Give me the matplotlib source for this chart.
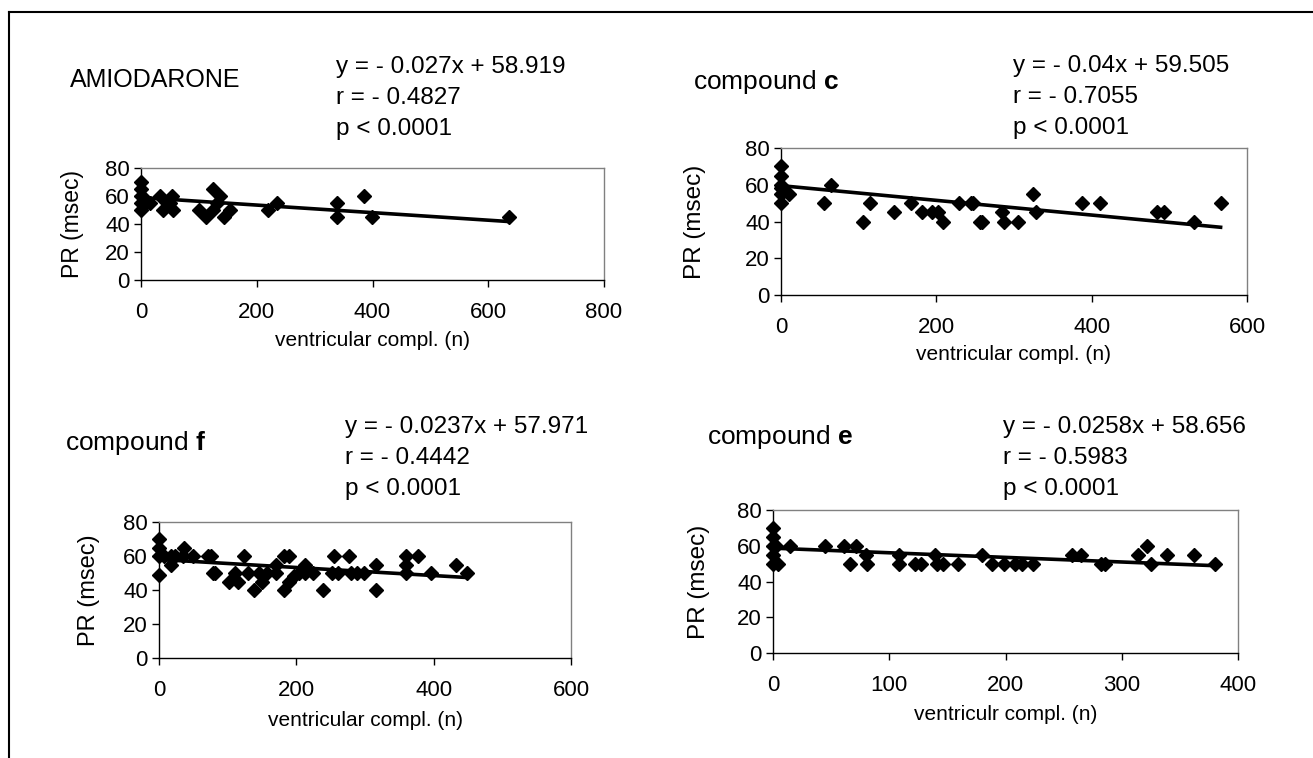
import numpy as np
import matplotlib
matplotlib.use("Agg")
import matplotlib.pyplot as plt
from matplotlib.lines import Line2D

plt.rcParams['font.family'] = ['Liberation Sans', 'DejaVu Sans']
plt.rcParams['mathtext.fontset'] = 'custom'
plt.rcParams['mathtext.rm'] = 'Liberation Sans'
plt.rcParams['mathtext.bf'] = 'Liberation Sans:bold'

# data (ventricular complexes vs PR interval)
amio_x = [0, 0, 0, 0, 0, 2, 8, 15, 33, 38, 45, 50, 53, 56, 101, 112, 124, 124, 131, 137,
          144, 154, 220, 235, 339, 339, 385, 399, 635]
amio_y = [70, 65, 60, 55, 50, 60, 55, 55, 60, 50, 55, 55, 60, 50, 50, 45, 65, 50, 55, 60,
          45, 50, 50, 55, 55, 45, 60, 45, 45]

c_x = [0, 0, 0, 0, 0, 0, 10, 56, 64, 106, 115, 145, 167, 181, 195, 202, 208, 229, 244, 247,
       256, 259, 285, 287, 305, 325, 328, 388, 411, 484, 493, 532, 566]
c_y = [70, 65, 60, 58, 55, 50, 55, 50, 60, 40, 50, 45, 50, 45, 45, 45, 40, 50, 50, 50,
       40, 40, 45, 40, 40, 55, 45, 50, 50, 45, 45, 40, 50]

f_x = [0, 0, 0, 0, 7, 18, 18, 23, 35, 37, 50, 71, 75, 79, 82, 102, 110, 115, 124, 129,
       138, 146, 150, 157, 171, 171, 182, 182, 189, 189, 196, 204, 213, 213, 224, 239, 252,
       255, 260, 277, 280, 288, 299, 316, 316, 359, 360, 360, 377, 396, 433, 448]
f_y = [70, 65, 60, 49, 60, 55, 60, 60, 60, 65, 60, 60, 60, 50, 50, 45, 50, 45, 60, 50,
       40, 50, 45, 50, 55, 50, 60, 40, 60, 45, 48, 50, 55, 50, 50, 40, 50,
       60, 50, 60, 50, 50, 50, 55, 40, 60, 55, 50, 60, 50, 55, 50]

e_x = [0, 0, 0, 0, 0, 3, 4, 15, 45, 61, 66, 71, 80, 81, 108, 108, 122, 127, 139, 141,
       146, 159, 180, 188, 199, 208, 214, 224, 257, 265, 282, 286, 314, 322, 325, 339, 362, 380]
e_y = [70, 65, 60, 55, 50, 60, 50, 60, 60, 60, 50, 60, 55, 50, 55, 50, 50, 50, 55, 50,
       50, 50, 55, 50, 50, 50, 50, 50, 55, 55, 50, 50, 55, 60, 50, 55, 55, 50]

titles = ["AMIODARONE", r"compound $\mathbf{c}$", r"compound $\mathbf{f}$", r"compound $\mathbf{e}$"]
slopes = [-0.027, -0.04, -0.0237, -0.0258]
intercepts = [58.919, 59.505, 57.971, 58.656]
eq_texts = ["y = - 0.027x + 58.919", "y = - 0.04x + 59.505",
            "y = - 0.0237x + 57.971", "y = - 0.0258x + 58.656"]
r_texts = ["r = - 0.4827", "r = - 0.7055", "r = - 0.4442", "r = - 0.5983"]
p_text = "p < 0.0001"
xlabels = ["ventricular compl. (n)", "ventricular compl. (n)",
           "ventricular compl. (n)", "ventriculr compl. (n)"]
xmax = [800, 600, 600, 400]
xstep = [200, 200, 200, 100]

W, H = 1313, 758
fig = plt.figure(figsize=(W / 100, H / 100), dpi=100)


def px_axes(x0, x1, ytop, ybot):
    return fig.add_axes([x0 / W, 1 - ybot / H, (x1 - x0) / W, (ybot - ytop) / H])


def ftext(x, y, s, **kw):
    fig.text(x / W, 1 - y / H, s, **kw)


# pixel boxes of the plot areas: left, right, top, bottom
boxes = [(141, 604, 168, 280), (781, 1247, 148, 295),
         (159, 571, 522, 658), (773, 1238, 510, 653)]
title_pos = [(70, 80), (693, 82), (65, 443), (707, 437)]
title_size = [18, 19, 19, 19]
eq_pos = [(336, 67), (1013, 66), (345, 427), (1003, 427)]
ylab_x = [72, 695, 89, 699]
ylab_size = [16.5, 17.5, 17, 17.5]
xlab_y = [340, 355, 721, 714]

panels = [(amio_x, amio_y), (c_x, c_y), (f_x, f_y), (e_x, e_y)]

for i, (xs, ys) in enumerate(panels):
    x0, x1, yt, yb = boxes[i]
    ax = px_axes(x0, x1, yt, yb)
    ax.plot(xs, ys, linestyle='none', marker='D', markersize=7,
            color='black', clip_on=False, zorder=3)
    lx = np.array([0, max(xs)])
    ax.plot(lx, slopes[i] * lx + intercepts[i], color='black', lw=2.6, zorder=2)
    ax.set_xlim(0, xmax[i])
    ax.set_ylim(0, 80)
    ax.set_xticks(np.arange(0, xmax[i] + 1, xstep[i]))
    ax.set_yticks([0, 20, 40, 60, 80])
    ax.tick_params(direction='out', length=5, width=1, labelsize=16)
    ax.tick_params(axis='x', pad=11)
    ax.tick_params(axis='y', pad=3)
    for s in ['left', 'bottom']:
        ax.spines[s].set_color('black')
        ax.spines[s].set_linewidth(1)
    for s in ['top', 'right']:
        ax.spines[s].set_color('#808080')
        ax.spines[s].set_linewidth(1)

    ftext(ylab_x[i], (yt + yb) / 2, "PR (msec)", rotation=90, fontsize=ylab_size[i],
          ha='center', va='center')
    ftext((x0 + x1) / 2, xlab_y[i], xlabels[i], fontsize=15, ha='center', va='center')
    ftext(title_pos[i][0], title_pos[i][1], titles[i], fontsize=title_size[i],
          ha='left', va='center')
    ex, ey = eq_pos[i]
    ftext(ex, ey, eq_texts[i], fontsize=17.5, ha='left', va='center')
    ftext(ex, ey + 31, r_texts[i], fontsize=17.5, ha='left', va='center')
    ftext(ex, ey + 62, p_text, fontsize=17.5, ha='left', va='center')

# frame around the figure (top and left edges visible)
fig.add_artist(Line2D([9 / W, 1], [1 - 12 / H, 1 - 12 / H], color='black', lw=1.5))
fig.add_artist(Line2D([9 / W, 9 / W], [1 - 12 / H, 0], color='black', lw=1.5))

fig.savefig("out.png", dpi=100, facecolor='white')
